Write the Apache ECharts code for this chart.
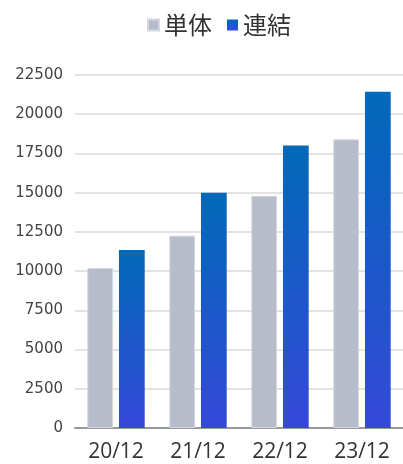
<!DOCTYPE html>
<html><head><meta charset="utf-8">
<script src="https://cdn.jsdelivr.net/npm/echarts@6/dist/echarts.min.js"></script>
<style>html,body{margin:0;padding:0;background:#fff}#c{width:403px;height:464px}</style>
</head><body><div id="c"></div>
<script>
var categories = ['20/12','21/12','22/12','23/12'];
var tantai = [10200, 12260, 14800, 18400];
var renketsu = [11350, 15000, 18000, 21430];
var seriesNames = ['単体','連結'];

var chart = echarts.init(document.getElementById('c'));
chart.setOption({
  animation:false,
  legend:{top:8,left:142,itemWidth:11,itemHeight:11,itemGap:15,icon:'rect',
    textStyle:{fontSize:24,color:'#333',fontFamily:'Noto Sans CJK JP'}},
  grid:{left:75,right:0,top:75,bottom:36},
  xAxis:{type:'category',data:categories,
    axisLine:{lineStyle:{color:'#999',width:2}},axisTick:{show:false},
    axisLabel:{fontSize:21,color:'#333',margin:14,fontFamily:'Open Sans'}},
  yAxis:{type:'value',min:0,max:22500,interval:2500,
    axisLabel:{fontSize:15,color:'#444',margin:12,fontFamily:'DejaVu Sans',formatter:function(v){return String(v);}},
    splitLine:{lineStyle:{color:'#e3e3e3',width:2}}},
  series:[
    {name:seriesNames[0],type:'bar',data:tantai,barGap:'23%',barCategoryGap:'30%',
      itemStyle:{color:'#b7bccb',borderColor:'#d5d8e2',borderWidth:1}},
    {name:seriesNames[1],type:'bar',data:renketsu,
      itemStyle:{color:new echarts.graphic.LinearGradient(0,0,0,1,[{offset:0,color:'#0069b8'},{offset:1,color:'#3548d9'}])}}
  ]
});
</script></body></html>
